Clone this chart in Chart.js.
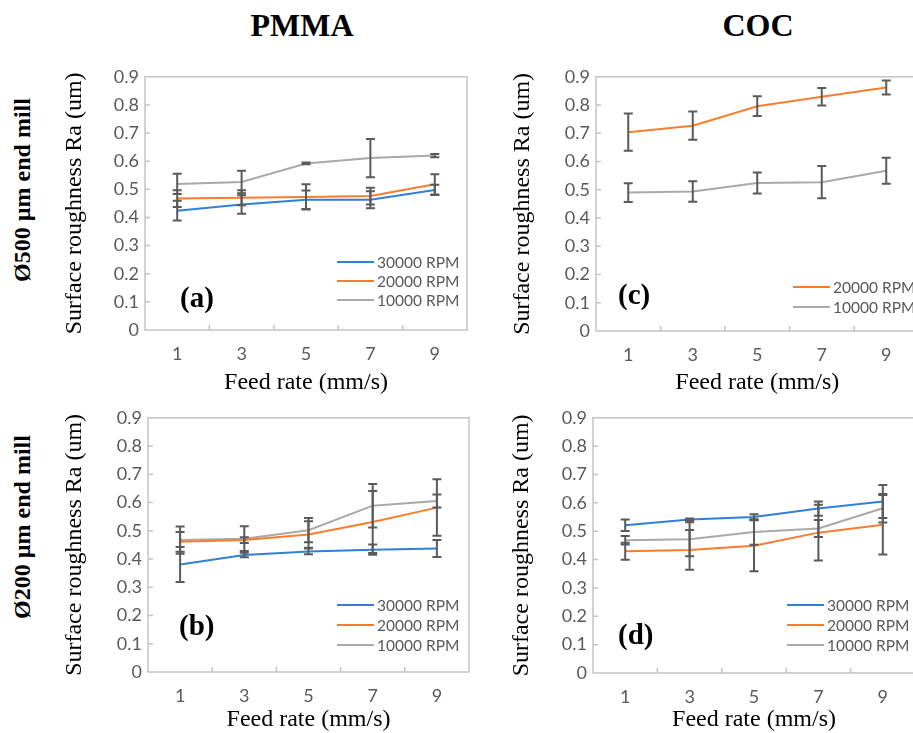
<!DOCTYPE html>
<html>
<head>
<meta charset="utf-8">
<script src="https://cdn.jsdelivr.net/npm/chart.js@4/dist/chart.umd.min.js"></script>
<style>
    html, body { margin: 0; padding: 0; background: #fff; width: 913px; height: 733px; overflow: hidden; }
    body { position: relative; }
    canvas { position: absolute; }
    .head { position: absolute; font: bold 32px "Liberation Serif", "Times New Roman", serif; color: #000; transform: translate(-50%, -50%); white-space: nowrap; }
    .row { position: absolute; font: bold 24px "Liberation Serif", "Times New Roman", serif; color: #000; white-space: nowrap; transform: translate(-50%, -50%) rotate(-90deg); }
</style>
</head>
<body>
<div class="head" style="left:302px; top:25px;">PMMA</div>
<div class="head" style="left:758px; top:25px;">COC</div>
<div class="row" style="left:22px; top:190px;">Ø500 µm end mill</div>
<div class="row" style="left:22px; top:527px;">Ø200 µm end mill</div>
<canvas id="chartA"></canvas>
<canvas id="chartC"></canvas>
<canvas id="chartB"></canvas>
<canvas id="chartD"></canvas>
<script>
// Feed rates (mm/s)
const feedRates = ['1', '3', '5', '7', '9'];
const seriesNames = ['30000 RPM', '20000 RPM', '10000 RPM'];

// (a) PMMA, 500 um end mill
const a30 = [0.424, 0.446, 0.463, 0.463, 0.498];
const a30Err = [0.035, 0.033, 0.033, 0.030, 0.018];
const a20 = [0.467, 0.470, 0.473, 0.476, 0.518];
const a20Err = [0.030, 0.027, 0.045, 0.030, 0.036];
const a10 = [0.519, 0.526, 0.592, 0.611, 0.620];
const a10Err = [0.036, 0.040, 0.003, 0.068, 0.006];

// (c) COC, 500 um end mill
const c20 = [0.704, 0.727, 0.796, 0.829, 0.862];
const c20Err = [0.066, 0.050, 0.035, 0.031, 0.025];
const c10 = [0.490, 0.494, 0.524, 0.527, 0.567];
const c10Err = [0.033, 0.036, 0.037, 0.057, 0.046];

// (b) PMMA, 200 um end mill
const b30 = [0.381, 0.414, 0.427, 0.433, 0.437];
const b30Err = [0.062, 0.008, 0.010, 0.018, 0.030];
const b20 = [0.461, 0.467, 0.487, 0.531, 0.582];
const b20Err = [0.035, 0.010, 0.047, 0.110, 0.100];
const b10 = [0.467, 0.472, 0.502, 0.589, 0.605];
const b10Err = [0.048, 0.044, 0.043, 0.077, 0.023];

// (d) COC, 200 um end mill
const d30 = [0.521, 0.541, 0.550, 0.580, 0.605];
const d30Err = [0.020, 0.004, 0.010, 0.025, 0.058];
const d20 = [0.429, 0.434, 0.449, 0.495, 0.523];
const d20Err = [0.030, 0.070, 0.090, 0.098, 0.105];
const d10 = [0.468, 0.472, 0.497, 0.510, 0.581];
const d10Err = [0.015, 0.060, 0.045, 0.030, 0.050];

const colors = { '30000 RPM': '#2f80d8', '20000 RPM': '#f97d2c', '10000 RPM': '#a9a9a9' };
const tickFont = { family: 'Lato, "Open Sans", sans-serif', size: 18 };
const serif = '"Liberation Serif", "Times New Roman", serif';

// frame, inside tick marks
const framePlugin = {
    id: 'frame',
    beforeDatasetsDraw(chart) {
        const { ctx, chartArea: a, scales: { x, y } } = chart;
        ctx.save();
        ctx.strokeStyle = '#c4c4c4';
        ctx.lineWidth = 1.5;
        ctx.strokeRect(a.left, a.top, a.right - a.left, a.bottom - a.top);
        ctx.beginPath();
        for (let i = 0; i < feedRates.length - 1; i++) {
            const px = (x.getPixelForValue(i) + x.getPixelForValue(i + 1)) / 2;
            ctx.moveTo(px, a.bottom);
            ctx.lineTo(px, a.bottom - 5);
        }
        for (let v = 1; v < 9; v++) {
            const py = y.getPixelForValue(v / 10);
            ctx.moveTo(a.left, py);
            ctx.lineTo(a.left + 5, py);
        }
        ctx.stroke();
        ctx.restore();
    }
};

// error bars, legend and panel letter
const extrasPlugin = {
    id: 'extras',
    afterDatasetsDraw(chart, args, opts) {
        const { ctx, chartArea: a, scales: { y } } = chart;
        ctx.save();
        ctx.strokeStyle = '#5a5a5a';
        ctx.lineWidth = 2;
        chart.data.datasets.forEach(function(ds, di) {
            const meta = chart.getDatasetMeta(di);
            ds.data.forEach(function(v, i) {
                const e = ds.errors[i];
                const px = meta.data[i].x;
                const top = y.getPixelForValue(v + e);
                const bot = y.getPixelForValue(v - e);
                ctx.beginPath();
                ctx.moveTo(px, top); ctx.lineTo(px, bot);
                ctx.moveTo(px - 4.5, top); ctx.lineTo(px + 4.5, top);
                ctx.moveTo(px - 4.5, bot); ctx.lineTo(px + 4.5, bot);
                ctx.stroke();
            });
        });

        // legend
        const lx = a.right - opts.legendRight;
        chart.data.datasets.forEach(function(ds, di) {
            const ly = a.bottom - opts.legendBottom + di * opts.legendGap;
            ctx.strokeStyle = ds.borderColor;
            ctx.lineWidth = 2;
            ctx.beginPath();
            ctx.moveTo(lx, ly); ctx.lineTo(lx + 37, ly);
            ctx.stroke();
            ctx.fillStyle = '#595959';
            ctx.font = '15.5px Lato, "Open Sans", sans-serif';
            ctx.textBaseline = 'middle';
            ctx.textAlign = 'left';
            ctx.fillText(ds.label, lx + 40, ly + 1);
        });

        // panel letter
        ctx.fillStyle = '#000';
        ctx.font = 'bold 29px ' + serif;
        ctx.textBaseline = 'middle';
        ctx.fillText(opts.letter, a.left + opts.letterLeft, a.bottom - opts.letterBottom);
        ctx.restore();
    }
};

function makeDataset(name, values, errors) {
    return {
        label: name,
        data: values,
        errors: errors,
        borderColor: colors[name],
        backgroundColor: colors[name],
        borderWidth: 2,
        pointRadius: 0,
        tension: 0,
        fill: false
    };
}

function makePanel(id, box, area, yTitleX, xTitleBottom, extras, datasets) {
    const canvas = document.getElementById(id);
    canvas.width = box.width;
    canvas.height = box.height;
    canvas.style.left = box.left + 'px';
    canvas.style.top = box.top + 'px';
    const yWidth = area.left - box.left;
    const xHeight = box.top + box.height - area.bottom;

    return new Chart(canvas.getContext('2d'), {
        type: 'line',
        data: { labels: feedRates, datasets: datasets },
        options: {
            responsive: false,
            animation: false,
            layout: {
                padding: { top: area.top - box.top, right: box.left + box.width - area.right, left: 0, bottom: 0 }
            },
            plugins: {
                legend: { display: false },
                tooltip: { enabled: false },
                extras: extras
            },
            scales: {
                x: {
                    offset: true,
                    grid: { display: false, drawTicks: false },
                    border: { display: false },
                    ticks: { color: '#595959', font: tickFont, padding: 13, maxRotation: 0 },
                    title: {
                        display: true,
                        text: 'Feed rate (mm/s)',
                        color: '#000',
                        font: { family: serif, size: 24 },
                        padding: { top: 0, bottom: xTitleBottom }
                    },
                    afterFit: function(scale) { scale.height = xHeight; }
                },
                y: {
                    min: 0,
                    max: 0.9,
                    grid: { display: false, drawTicks: false },
                    border: { display: false },
                    ticks: {
                        stepSize: 0.1,
                        color: '#595959',
                        font: tickFont,
                        padding: 6,
                        callback: function(v) { return v === 0 ? '0' : v.toFixed(1); }
                    },
                    title: {
                        display: true,
                        text: 'Surface roughness Ra (um)',
                        color: '#000',
                        font: { family: serif, size: 24 },
                        padding: { top: yTitleX - box.left - 14.4, bottom: 0 }
                    },
                    afterFit: function(scale) { scale.width = yWidth; }
                }
            }
        },
        plugins: [framePlugin, extrasPlugin]
    });
}

makePanel('chartA',
    { left: 55, top: 60, width: 420, height: 340 },
    { left: 145, top: 72, right: 467, bottom: 330 }, 75, 2.6,
    { legendRight: 130, legendBottom: 68, legendGap: 19, letter: '(a)', letterLeft: 35, letterBottom: 30 },
    [makeDataset(seriesNames[0], a30, a30Err), makeDataset(seriesNames[1], a20, a20Err), makeDataset(seriesNames[2], a10, a10Err)]);

makePanel('chartC',
    { left: 505, top: 60, width: 420, height: 340 },
    { left: 596, top: 72, right: 918.5, bottom: 331 }, 523, 2.6,
    { legendRight: 125.5, legendBottom: 44, legendGap: 20, letter: '(c)', letterLeft: 22, letterBottom: 34 },
    [makeDataset(seriesNames[1], c20, c20Err), makeDataset(seriesNames[2], c10, c10Err)]);

makePanel('chartB',
    { left: 58, top: 401, width: 420, height: 336 },
    { left: 148, top: 413, right: 469, bottom: 672 }, 75, 3,
    { legendRight: 132, legendBottom: 67, legendGap: 20, letter: '(b)', letterLeft: 31, letterBottom: 44 },
    [makeDataset(seriesNames[0], b30, b30Err), makeDataset(seriesNames[1], b20, b20Err), makeDataset(seriesNames[2], b10, b10Err)]);

makePanel('chartD',
    { left: 503, top: 401, width: 420, height: 336 },
    { left: 593, top: 413, right: 915, bottom: 673 }, 522, 3,
    { legendRight: 128, legendBottom: 68, legendGap: 20, letter: '(d)', letterLeft: 25, letterBottom: 36 },
    [makeDataset(seriesNames[0], d30, d30Err), makeDataset(seriesNames[1], d20, d20Err), makeDataset(seriesNames[2], d10, d10Err)]);
</script>
</body>
</html>
